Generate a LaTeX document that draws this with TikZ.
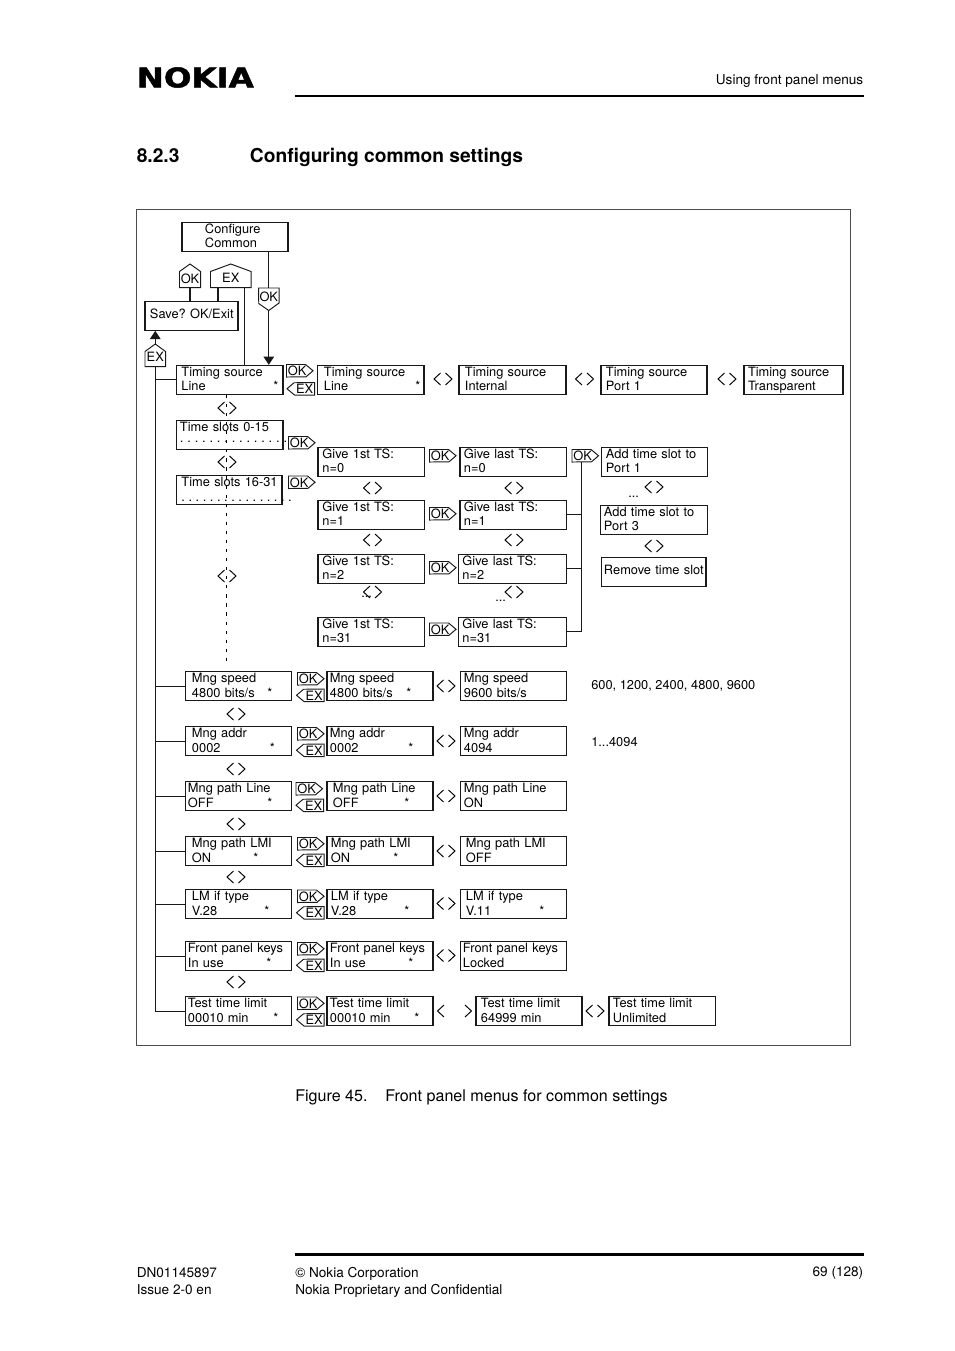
\documentclass[tikz,border=0pt]{standalone}
\usepackage{fontspec}
\usepackage{graphicx}
\setmainfont{TeX Gyre Heros}
\newfontfamily\logofont{DejaVu Sans}[BoldFeatures={FakeBold=1.6}]
\usetikzlibrary{arrows.meta}
\newdimen\pxu \pxu=0.75pt
\newcommand\tstrut{\rule[-3.5\pxu]{0pt}{14.5\pxu}}
\newcommand\sstrut{\rule[-5\pxu]{0pt}{14.5\pxu}}
\newcommand\st[2]{\makebox[#1\pxu][l]{#2}*}
\tikzset{
  menubox/.style={draw=black!90,line width=0.78pt,anchor=north west,inner sep=0pt,align=left,
     xshift=-0.4pt,yshift=0.15pt,
     font=\fontsize{9.62pt}{10.9pt}\selectfont\frenchspacing,minimum height=29\pxu},
  tagnode/.style={inner sep=0pt,font=\fontsize{9.62pt}{10.9pt}\selectfont,anchor=north west},
  tagline/.style={draw=black!90,line width=0.72pt,line join=miter},
  link/.style={draw=black!90,line width=0.78pt},
  chevron/.style={draw=black,line width=0.72pt},
  vdash/.style={draw=black,line width=0.8pt,dash pattern=on 2.4pt off 4.4pt},
  flow/.style={link,-{Triangle[length=6.2pt,width=8pt]}},
  plain/.style={inner sep=0pt,font=\fontsize{9.62pt}{10.9pt}\selectfont},
  pagetext/.style={inner sep=0pt,font=\fontsize{10.2pt}{12.75pt}\selectfont,align=left},
}
% name,x,y,w,text offset,line 1,line 2
\newcommand\mbx[7]{\node[menubox,text width=#4\pxu] (#1) at (#2,#3)
  {\tstrut\hspace*{#5\pxu}#6\\\tstrut\hspace*{#5\pxu}#7};}
\newcommand\sbx[6]{\node[menubox,text width=#4\pxu] (#1) at (#2,#3)
  {\sstrut\hspace*{#5\pxu}#6};}
\newcommand\tagtxt[2]{\raisebox{#1\pxu}[0pt][0pt]{#2}}
\newcommand\tagR[4]{%
  \node[tagnode,minimum width=26\pxu,minimum height=12\pxu] (#1) at (#2,#3)
    {\tagtxt{-5.2}{\makebox[26\pxu][l]{\hspace{1\pxu}#4}}};
  \draw[tagline] (#1.north west) -- ++(19,0) -- (#1.east) -- ++(-7,6) -- (#1.south west) -- cycle;}
\newcommand\tagL[4]{%
  \node[tagnode,minimum width=27\pxu,minimum height=12\pxu] (#1) at (#2,#3)
    {\tagtxt{-5.2}{\makebox[27\pxu][r]{#4\hspace{1\pxu}}}};
  \draw[tagline] (#1.west) -- ++(7,-6) -- (#1.north east) -- (#1.south east) -- ++(-20,0) -- cycle;}
% name,x,y,w,h,text drop,text
\newcommand\tagU[7]{%
  \node[tagnode,minimum width=#4\pxu,minimum height=#5\pxu] (#1) at (#2,#3)
    {\tagtxt{#6}{\makebox[#4\pxu][c]{#7}}};
  \path (#1.north east) ++(0,7.5) coordinate (#1-r);
  \draw[tagline] (#1.north) -- (#1-r) -- (#1.south east) -- (#1.south west) -- (#1.north west |- #1-r) -- cycle;}
\newcommand\tagD[6]{%
  \node[tagnode,minimum width=#4\pxu,minimum height=#5\pxu] (#1) at (#2,#3)
    {\tagtxt{-2.7}{\makebox[#4\pxu][c]{#6}}};
  \draw[tagline] (#1.north west) -- (#1.north east) -- ++(0,15) -- (#1.south) -- ++(-10,-7) -- cycle;}
\newcommand\chl[2]{\draw[chevron] (#1+6.5,#2-6) -- (#1,#2) -- (#1+6.5,#2+6);}
\newcommand\chr[2]{\draw[chevron] (#1,#2-6) -- (#1+6.5,#2) -- (#1,#2+6);}
\newcommand\chv[2]{\chl{#1}{#2}\chr{#1+11.5}{#2}}
\newcommand\dotsnode[3]{\node[plain,anchor=base west] (#1) at (#2,#3) {...};}
\begin{document}
\begin{tikzpicture}[x=0.75pt,y=-0.75pt]
\useasboundingbox (0,0) rectangle (954,1351);
% page furniture
\node[anchor=west,inner sep=0pt] (logo) at (136.5,77.5) {\resizebox{117\pxu}{20\pxu}{\logofont\bfseries NOKIA}};
\node[pagetext,anchor=east] (hdr) at (863.5,81) {Using front panel menus};
\draw[line width=2.2pt] (295,96) coordinate (hl) -- (864,96) coordinate (hr);
\node[inner sep=0pt,anchor=base west,font=\fontsize{14.4pt}{17pt}\selectfont\bfseries] (secno) at (136.5,162.5) {8.2.3};
\node[inner sep=0pt,anchor=base west,font=\fontsize{14.4pt}{17pt}\selectfont\bfseries] (sectitle) at (249.7,162.5) {Configuring common settings};
\draw[draw=black!70,line width=0.85pt] (136.5,209.5) rectangle (850.5,1045.5);
\node[inner sep=0pt,anchor=base west,font=\fontsize{12.06pt}{14pt}\selectfont] (figno) at (295,1101) {Figure 45.};
\node[inner sep=0pt,anchor=base west,font=\fontsize{12.06pt}{14pt}\selectfont] (figcap) at (385,1101) {Front panel menus for common settings};
\draw[line width=2.2pt] (295,1254.5) coordinate (fl) -- (864,1254.5) coordinate (fr);
\node[pagetext,anchor=north west] (f1) at (136.5,1267) {DN01145897\\Issue 2-0 en};
\node[pagetext,anchor=north west] (f2) at (295,1267) {© Nokia Corporation\\Nokia Proprietary and Confidential};
\node[pagetext,anchor=east] (f3) at (863.5,1273) {69 (128)};
% top of the diagram
\mbx{cfg}{182}{222}{106}{23}{Configure}{Common}
\sbx{save}{145}{301}{93}{5}{Save? OK/Exit}
\tagU{okup}{179.5}{264}{20.5}{23}{-8.2}{OK}
\tagU{exup}{210.5}{264}{40}{23}{-7.2}{EX}
\tagD{okdn}{258.5}{288}{20}{22}{OK}
\tagU{exsave}{145}{344}{20}{22}{-6.5}{EX}
\mbx{t1}{176.5}{365}{106.5}{5}{Timing source}{\st{92}{Line}}
\mbx{t2}{317.5}{365}{106.5}{6.5}{Timing source}{\st{91.5}{Line}}
\mbx{t3}{459}{365}{107}{6}{Timing source}{Internal}
\mbx{t4}{601}{365}{106}{5}{Timing source}{Port 1}
\mbx{t5}{744}{365}{99}{4}{Timing source}{Transparent}
\tagR{ok1}{286.5}{364.5}{OK}
\tagL{ex1}{287}{382.5}{EX}
\chv{434}{379}\chv{575.5}{379}\chv{718}{379}
% time slots
\mbx{ts1}{176.5}{420.5}{106.5}{3.5}{Time slots 0-15}{\raisebox{4\pxu}{\rlap{\spaceskip=3.83\pxu . . . . . . . . . . . . . . .}}}
\mbx{ts2}{176.5}{475}{105.5}{5}{Time slots 16-31}{\raisebox{-1\pxu}{\rlap{\spaceskip=3.55\pxu . . . . . . . . . . . . . . . .}}}
\tagR{ok2}{288.5}{436.5}{OK}
\tagR{ok3}{288.5}{476}{OK}
\coordinate (dashend) at (226.7,662);
\draw[vdash] (t1.south -| dashend) -- (dashend);
\chv{218}{408}\chv{218}{462}\chv{218}{576}
% give first / give last
\mbx{f0}{318}{447}{106.5}{4.5}{Give 1st TS:}{n=0}
\mbx{f1b}{318}{500}{106.5}{4.5}{Give 1st TS:}{n=1}
\mbx{f2b}{318}{554}{106.5}{4.5}{Give 1st TS:}{n=2}
\mbx{f31}{318}{617}{106.5}{4.5}{Give 1st TS:}{n=31}
\mbx{l0}{460}{447}{106.5}{4}{Give last TS:}{n=0}
\mbx{l1}{460}{500}{106.5}{4}{Give last TS:}{n=1}
\mbx{l2}{458.5}{554}{108}{4}{Give last TS:}{n=2}
\mbx{l31}{458.5}{617}{108}{4}{Give last TS:}{n=31}
\tagR{okf0}{429.5}{449.5}{OK}
\tagR{okf1}{429.5}{507.5}{OK}
\tagR{okf2}{429.5}{561.5}{OK}
\tagR{okf31}{429.5}{623}{OK}
\tagR{okl}{572}{449.5}{OK}
\chv{363.5}{488}\chv{363.5}{540}\chv{363.5}{592}
\chv{505}{488}\chv{505}{540}\chv{505}{592}
\dotsnode{d1}{361}{597}
\dotsnode{d2}{495}{601}
\mbx{a1}{601.5}{447}{106}{4.5}{Add time slot to}{Port 1}
\mbx{a3}{600.5}{505}{107}{3.5}{Add time slot to}{Port 3}
\sbx{rm}{601.5}{557.5}{104.5}{2.5}{Remove time slot}
\chv{645}{487}\chv{645}{546}
\dotsnode{d3}{628}{497}
% connectors for the give-last column
\coordinate (bus) at (581.3,462);
\draw[link] (okl.south -| bus) -- (bus |- l31.east) -- (l31.east);
\draw[link] (l1.east) -- (bus |- l1.east);
\draw[link] (l2.east) -- (bus |- l2.east);
% settings rows
\mbx{r1l}{185.5}{671.5}{106}{6.5}{Mng speed}{\st{75.5}{4800 bits/s}}
\mbx{r1r}{327}{671.5}{106}{3}{Mng speed}{\st{76.5}{4800 bits/s}}
\mbx{r1t}{460.5}{671.5}{106}{3.5}{Mng speed}{9600 bits/s}
\tagR{r1ok}{297.5}{672.5}{OK}\tagL{r1ex}{296.5}{689}{EX}\chv{437}{686}
\node[plain,anchor=west] (r1n) at (591,686) {600, 1200, 2400, 4800, 9600};
\mbx{r2l}{185.5}{726.5}{106}{6.5}{Mng addr}{\st{78}{0002}}
\mbx{r2r}{327}{726.5}{106}{3}{Mng addr}{\st{78.5}{0002}}
\mbx{r2t}{460.5}{726.5}{106}{3.5}{Mng addr}{4094}
\tagR{r2ok}{297.5}{727.5}{OK}\tagL{r2ex}{296.5}{744}{EX}\chv{437}{741}
\node[plain,anchor=west] (r2n) at (591,742) {1...4094};
\mbx{r3l}{185.5}{781.5}{106}{2.5}{Mng path Line}{\st{79.5}{OFF}}
\mbx{r3r}{327}{781.5}{106}{6}{Mng path Line}{\st{71.5}{OFF}}
\mbx{r3t}{460.5}{781.5}{106}{3.5}{Mng path Line}{ON}
\tagR{r3ok}{296}{782.5}{OK}\tagL{r3ex}{296}{799}{EX}\chv{437}{796}
\mbx{r4l}{185.5}{836.5}{106}{6.5}{Mng path LMI}{\st{61.5}{ON}}
\mbx{r4r}{327}{836.5}{106}{4}{Mng path LMI}{\st{62.5}{ON}}
\mbx{r4t}{460.5}{836.5}{106}{5.5}{Mng path LMI}{OFF}
\tagR{r4ok}{297.5}{837.5}{OK}\tagL{r4ex}{296.5}{854}{EX}\chv{437}{851}
\mbx{r5l}{185.5}{889.5}{106}{6.5}{LM if type}{\st{72.5}{V.28}}
\mbx{r5r}{327}{889.5}{106}{4}{LM if type}{\st{73.5}{V.28}}
\mbx{r5t}{460.5}{889.5}{106}{5.5}{LM if type}{\st{73.5}{V.11}}
\tagR{r5ok}{297.5}{890}{OK}\tagL{r5ex}{296.5}{906.5}{EX}\chv{437}{903.5}
\mbx{r6l}{185.5}{941.5}{106}{2.5}{Front panel keys}{\st{78.5}{In use}}
\mbx{r6r}{327}{941.5}{106}{3}{Front panel keys}{\st{78.5}{In use}}
\mbx{r6t}{460.5}{941.5}{106}{2.5}{Front panel keys}{Locked}
\tagR{r6ok}{297.5}{942.5}{OK}\tagL{r6ex}{296.5}{959}{EX}\chv{437}{955.5}
\mbx{r7l}{185.5}{996.5}{106}{2.5}{Test time limit}{\st{85.5}{00010 min}}
\mbx{r7r}{327}{996.5}{106}{3}{Test time limit}{\st{84.5}{00010 min}}
\mbx{r7t}{476}{996.5}{106}{5}{Test time limit}{64999 min}
\mbx{r7u}{609}{996.5}{106.5}{4}{Test time limit}{Unlimited}
\tagR{r7ok}{297.5}{997}{OK}\tagL{r7ex}{296.5}{1013.5}{EX}
\chl{437.5}{1011}\chr{465}{1011}\chv{586}{1011}
\chv{227}{714}\chv{227}{769}\chv{227}{824}\chv{227}{877}\chv{227}{982}
% connectors
\draw[link] (okup.south) -- (okup.south |- save.north);
\path (exup.south west) ++(7.5,0) coordinate (exs);
\draw[link] (exs) -- (exs |- save.north);
\path (exup.south east) ++(-7,0) coordinate (exbar);
\draw[link] (exbar) -- (exbar |- t1.north);
\draw[link] (okdn.north |- cfg.south) -- (okdn.north);
\draw[flow] (okdn.south) -- (okdn.south |- t1.north);
\draw[flow] (exsave.north) -- (exsave.north |- save.south);
\draw[link] (exsave.south) |- (r7l.west);
\draw[link] (t1.west) -- (t1.west -| exsave.south);
\draw[link] (r1l.west) -- (r1l.west -| exsave.south);
\draw[link] (r2l.west) -- (r2l.west -| exsave.south);
\draw[link] (r3l.west) -- (r3l.west -| exsave.south);
\draw[link] (r4l.west) -- (r4l.west -| exsave.south);
\draw[link] (r5l.west) -- (r5l.west -| exsave.south);
\draw[link] (r6l.west) -- (r6l.west -| exsave.south);
\end{tikzpicture}
\end{document}
